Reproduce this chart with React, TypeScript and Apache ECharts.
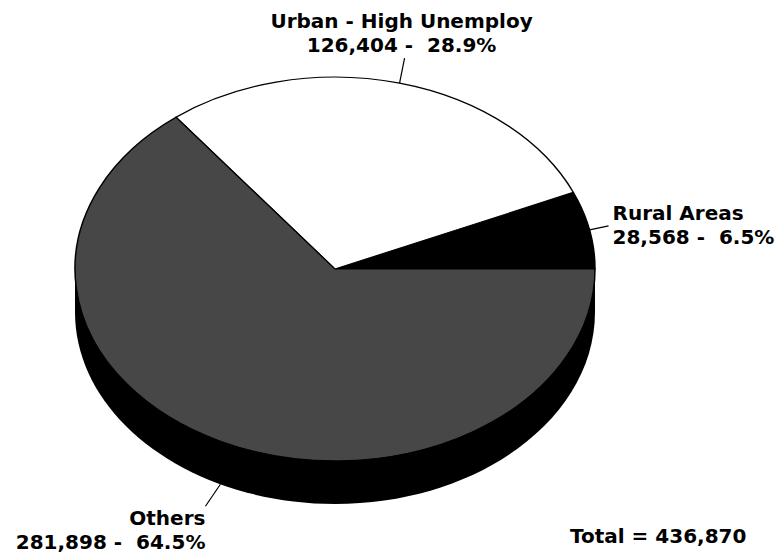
import React, { useEffect, useRef } from "react";
import * as echarts from "echarts";

const names = ["Rural Areas", "Urban - High Unemploy", "Others"];
const values = [28568, 126404, 281898];
const sliceColors = ["#000000", "#ffffff", "#474747"];
const totalLabel = "Total";

// layout (not data)
const CX = 335;
const CY = 269;
const R = 260;
const K = 0.738;
const DEPTH = 43;
const leaderOffsets = [
  [19, -4],
  [5, -25],
  [-15, 22],
];
const FONT = "'DejaVu Sans'";

const total = values.reduce((a, b) => a + b, 0);
const cum: number[] = [0];
values.forEach((v, i) => cum.push(cum[i] + v));
const fmt = (n: number) => n.toLocaleString("en-US");
const pct = (v: number) => ((v / total) * 100).toFixed(1) + "%";

export default function App() {
  const ref = useRef<HTMLDivElement>(null);
  useEffect(() => {
    if (!ref.current) return;
    const chart = echarts.init(ref.current, null, { renderer: "svg" });
    const option: any = {
      animation: false,
      backgroundColor: "#ffffff",
      graphic: [
        {
          type: "rect",
          z: 1,
          shape: { x: CX - R, y: CY, width: 2 * R, height: DEPTH },
          style: { fill: "#000" },
        },
        {
          type: "ellipse",
          z: 1,
          shape: { cx: CX, cy: CY + DEPTH, rx: R, ry: R * K },
          style: { fill: "#000" },
        },
        {
          type: "text",
          z: 10,
          x: 570,
          y: 536,
          style: {
            text: `${totalLabel} = ${fmt(total)}`,
            fill: "#000",
            font: `bold 20px ${FONT}`,
            align: "left",
            verticalAlign: "middle",
          },
        },
      ],
      series: [
        {
          type: "custom",
          coordinateSystem: "none",
          z: 5,
          data: values.map((v, i) => ({ value: v, name: names[i] })),
          renderItem: (params: any, api: any) => {
            const i = params.dataIndex;
            const a0 = (cum[i] / total) * Math.PI * 2;
            const a1 = (cum[i + 1] / total) * Math.PI * 2;
            const mid = (a0 + a1) / 2;
            const ax = CX + R * Math.cos(mid);
            const ay = CY - R * K * Math.sin(mid) + (Math.sin(mid) < 0 ? DEPTH : 0);
            const [dx, dy] = leaderOffsets[i];
            const ex = ax + dx;
            const ey = ay + dy;
            let align = "center";
            let vAlign = "bottom";
            let tx = ex - 3;
            let ty = ey - 1;
            if (dx > 10 && Math.abs(dy) < 10) {
              align = "left";
              vAlign = "middle";
              tx = ex + 4;
              ty = ey - 1;
            } else if (dy > 0) {
              align = "right";
              vAlign = "top";
              tx = ex;
              ty = ey;
            }
            return {
              type: "group",
              children: [
                {
                  type: "group",
                  x: CX,
                  y: CY,
                  scaleY: K,
                  children: [
                    {
                      type: "sector",
                      shape: {
                        cx: 0,
                        cy: 0,
                        r: R,
                        r0: 0,
                        startAngle: -a0,
                        endAngle: -a1,
                        clockwise: false,
                      },
                      style: {
                        fill: sliceColors[i],
                        stroke: "#000",
                        lineWidth: 1.5,
                        strokeNoScale: true,
                      },
                    },
                  ],
                },
                {
                  type: "line",
                  shape: { x1: ax, y1: ay, x2: ex, y2: ey },
                  style: { stroke: "#000", lineWidth: 1.2 },
                },
                {
                  type: "text",
                  x: tx,
                  y: ty,
                  style: {
                    text: `${names[i]}\n${fmt(values[i])} -  ${pct(values[i])}`,
                    fill: "#000",
                    font: `bold 20px ${FONT}`,
                    lineHeight: 24,
                    align,
                    verticalAlign: vAlign,
                  },
                },
              ],
            };
          },
        },
      ],
    };
    chart.setOption(option);
    return () => chart.dispose();
  }, []);
  return (
    <div
      ref={ref}
      style={{ position: "fixed", left: 0, top: 0, width: 782, height: 558 }}
    />
  );
}
